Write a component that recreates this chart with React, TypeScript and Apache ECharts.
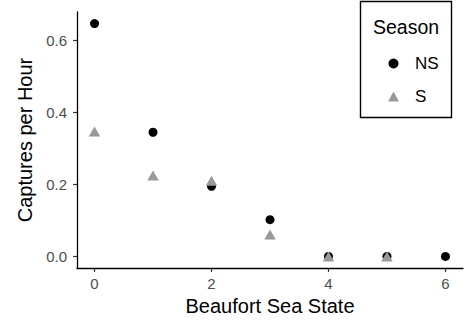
import React, { useEffect, useRef } from "react";
import * as echarts from "echarts";

const seaState = [0, 1, 2, 3, 4, 5, 6];
const nsValues = [0.647, 0.345, 0.195, 0.102, 0, 0, 0];
const sStates = [0, 1, 2, 3, 4, 5];
const sValues = [0.347, 0.225, 0.21, 0.061, 0, 0];
const xTicks = [0, 2, 4, 6];
const yTicks = [0, 0.2, 0.4, 0.6];

const FONT = "Liberation Sans, Arial, sans-serif";

export default function App() {
  const ref = useRef<HTMLDivElement>(null);
  useEffect(() => {
    if (!ref.current) return;
    const chart = echarts.init(ref.current, null, { renderer: "svg" });
    chart.setOption({
      animation: false,
      textStyle: { fontFamily: FONT },
      grid: { left: 77, right: 5, top: 12, bottom: 49, containLabel: false },
      xAxis: {
        type: "value",
        min: -0.3,
        max: 6.3,
        splitLine: { show: false },
        axisLine: { show: true, onZero: false, lineStyle: { color: "#000", width: 1.3 } },
        axisTick: { show: true, length: 4, customValues: xTicks, lineStyle: { color: "#333", width: 1.2 } },
        axisLabel: {
          customValues: xTicks,
          color: "#4d4d4d",
          fontSize: 15,
          margin: 8,
          fontFamily: FONT,
          formatter: (v: number) => String(v),
        },
        name: "Beaufort Sea State",
        nameLocation: "middle",
        nameGap: 28,
        nameTextStyle: { color: "#000", fontSize: 20, fontFamily: FONT },
      },
      yAxis: {
        type: "value",
        min: -0.0323,
        max: 0.6793,
        splitLine: { show: false },
        axisLine: { show: true, onZero: false, lineStyle: { color: "#000", width: 1.3 } },
        axisTick: { show: true, length: 4, customValues: yTicks, lineStyle: { color: "#333", width: 1.2 } },
        axisLabel: {
          customValues: yTicks,
          color: "#4d4d4d",
          fontSize: 15,
          margin: 10,
          fontFamily: FONT,
          formatter: (v: number) => v.toFixed(1),
        },
        name: "Captures per Hour",
        nameLocation: "middle",
        nameGap: 40,
        nameRotate: 90,
        nameTextStyle: { color: "#000", fontSize: 20, fontFamily: FONT },
      },
      legend: {
        orient: "vertical",
        left: 383,
        top: 50,
        padding: 5,
        itemWidth: 11,
        itemHeight: 10,
        itemGap: 16,
        textStyle: { fontSize: 17, color: "#000", fontFamily: FONT, padding: [0, 0, 0, 11] },
        data: [
          { name: "NS", icon: "circle", itemStyle: { color: "#000" } },
          { name: "S", icon: "triangle", itemStyle: { color: "#999999" } },
        ],
      },
      graphic: [
        {
          type: "rect",
          shape: { x: 360.5, y: 1.5, width: 91, height: 116 },
          style: { fill: "none", stroke: "#000", lineWidth: 1.4 },
        },
        {
          type: "text",
          x: 406,
          y: 27,
          style: {
            text: "Season",
            fontSize: 19.5,
            fontFamily: FONT,
            fill: "#000",
            align: "center",
            verticalAlign: "middle",
          },
        },
      ],
      series: [
        {
          name: "NS",
          type: "scatter",
          symbol: "circle",
          symbolSize: 9,
          itemStyle: { color: "#000", opacity: 1 },
          data: seaState.map((x, i) => [x, nsValues[i]]),
          z: 2,
        },
        {
          name: "S",
          type: "scatter",
          symbol: "triangle",
          symbolSize: [11.5, 10],
          itemStyle: { color: "#999999", opacity: 1 },
          data: sStates.map((x, i) => [x, sValues[i]]),
          z: 3,
        },
      ],
    });
    return () => chart.dispose();
  }, []);
  return <div ref={ref} style={{ width: 468, height: 321, position: "absolute", left: 0, top: 0 }} />;
}
